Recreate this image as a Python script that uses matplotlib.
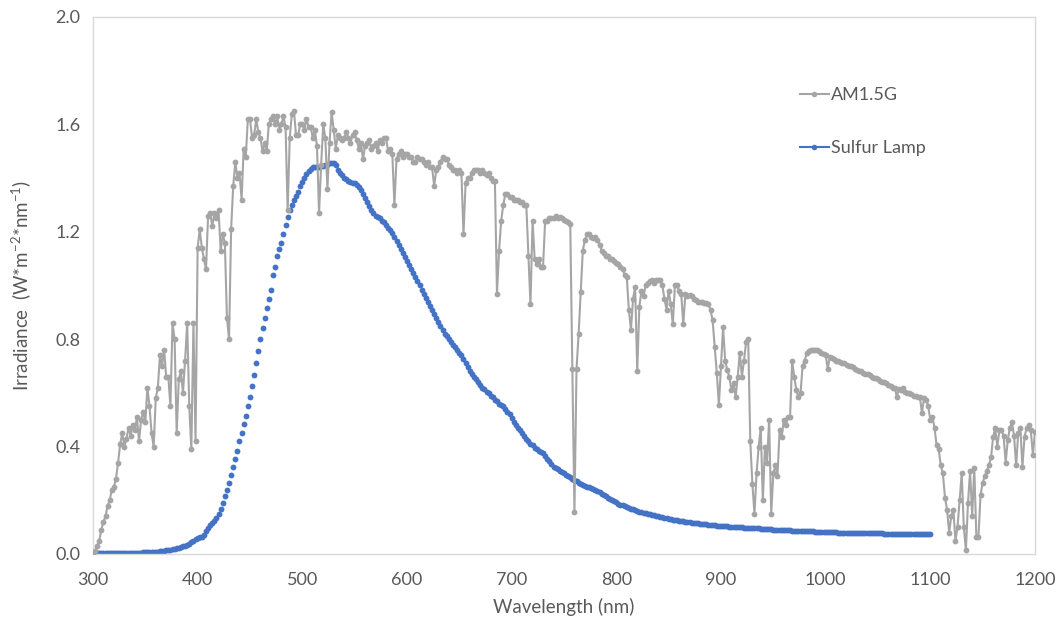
import numpy as np
import matplotlib
matplotlib.use("Agg")
import matplotlib.pyplot as plt
from matplotlib.lines import Line2D

# Wavelength grids (nm)
am15g_nm = np.arange(300, 1201, 2)
sulfur_nm = np.arange(300, 1101, 2)

# AM1.5G global tilt irradiance (W m^-2 nm^-1), 2 nm steps from 300 nm
am15g_irr = [
    0.00, 0.01, 0.03, 0.05, 0.09, 0.12, 0.14, 0.18, 0.20, 0.24,
    0.25, 0.28, 0.34, 0.41, 0.45, 0.40, 0.43, 0.47, 0.44, 0.48,
    0.46, 0.51, 0.42, 0.50, 0.53, 0.49, 0.62, 0.55, 0.45, 0.40,
    0.58, 0.62, 0.74, 0.70, 0.76, 0.66, 0.66, 0.55, 0.86, 0.80,
    0.45, 0.65, 0.68, 0.60, 0.72, 0.86, 0.55, 0.39, 0.86, 0.42,
    1.14, 1.21, 1.14, 1.10, 1.06, 1.26, 1.27, 1.22, 1.27, 1.25,
    1.28, 1.13, 1.19, 1.16, 0.88, 0.80, 1.21, 1.37, 1.46, 1.40,
    1.42, 1.32, 1.51, 1.48, 1.62, 1.62, 1.55, 1.56, 1.62, 1.57,
    1.55, 1.50, 1.53, 1.50, 1.60, 1.62, 1.63, 1.60, 1.63, 1.58,
    1.60, 1.63, 1.59, 1.28, 1.55, 1.64, 1.65, 1.56, 1.56, 1.60,
    1.60, 1.58, 1.62, 1.59, 1.59, 1.55, 1.58, 1.52, 1.27, 1.45,
    1.60, 1.55, 1.36, 1.53, 1.645, 1.58, 1.51, 1.56, 1.55, 1.54,
    1.55, 1.57, 1.55, 1.53, 1.56, 1.57, 1.54, 1.51, 1.53, 1.47,
    1.52, 1.53, 1.54, 1.51, 1.52, 1.53, 1.50, 1.54, 1.53, 1.55,
    1.55, 1.50, 1.51, 1.49, 1.30, 1.47, 1.49, 1.50, 1.48, 1.49,
    1.49, 1.48, 1.48, 1.46, 1.46, 1.48, 1.47, 1.47, 1.46, 1.45,
    1.46, 1.44, 1.44, 1.37, 1.43, 1.44, 1.46, 1.48, 1.47, 1.47,
    1.45, 1.44, 1.43, 1.43, 1.42, 1.43, 1.42, 1.19, 1.38, 1.40,
    1.40, 1.42, 1.43, 1.43, 1.43, 1.42, 1.43, 1.42, 1.41, 1.42,
    1.40, 1.39, 1.39, 0.97, 1.13, 1.24, 1.30, 1.34, 1.34, 1.33,
    1.33, 1.32, 1.32, 1.32, 1.31, 1.31, 1.30, 1.30, 1.11, 0.93,
    1.24, 1.10, 1.08, 1.10, 1.07, 1.07, 1.24, 1.24, 1.25, 1.25,
    1.25, 1.26, 1.25, 1.255, 1.25, 1.245, 1.24, 1.235, 1.23, 0.69,
    0.155, 0.69, 0.82, 0.975, 1.13, 1.17, 1.19, 1.19, 1.18, 1.175,
    1.18, 1.17, 1.15, 1.13, 1.12, 1.11, 1.11, 1.10, 1.10, 1.09,
    1.085, 1.08, 1.07, 1.06, 1.04, 1.03, 0.91, 0.835, 0.95, 0.995,
    0.68, 0.92, 0.98, 0.96, 1.00, 1.01, 1.015, 1.02, 1.01, 1.02,
    1.02, 1.02, 1.00, 0.95, 0.91, 0.98, 0.93, 0.855, 1.00, 1.00,
    0.98, 0.97, 0.855, 0.97, 0.96, 0.965, 0.96, 0.95, 0.945, 0.94,
    0.94, 0.94, 0.935, 0.935, 0.93, 0.91, 0.87, 0.77, 0.675, 0.555,
    0.70, 0.845, 0.72, 0.685, 0.66, 0.61, 0.635, 0.585, 0.66, 0.75,
    0.66, 0.72, 0.79, 0.80, 0.42, 0.26, 0.15, 0.30, 0.40, 0.47,
    0.20, 0.40, 0.34, 0.50, 0.15, 0.30, 0.33, 0.29, 0.46, 0.435,
    0.50, 0.48, 0.51, 0.51, 0.72, 0.66, 0.61, 0.585, 0.60, 0.70,
    0.72, 0.75, 0.755, 0.76, 0.76, 0.76, 0.76, 0.755, 0.75, 0.745,
    0.74, 0.69, 0.735, 0.73, 0.725, 0.72, 0.72, 0.715, 0.71, 0.71,
    0.705, 0.70, 0.70, 0.695, 0.69, 0.685, 0.68, 0.68, 0.675, 0.67,
    0.67, 0.665, 0.66, 0.655, 0.655, 0.65, 0.645, 0.64, 0.64, 0.635,
    0.63, 0.625, 0.62, 0.62, 0.585, 0.615, 0.61, 0.62, 0.605, 0.60,
    0.60, 0.595, 0.59, 0.59, 0.585, 0.585, 0.525, 0.58, 0.575, 0.55,
    0.50, 0.51, 0.47, 0.405, 0.39, 0.33, 0.30, 0.21, 0.165, 0.08,
    0.14, 0.165, 0.05, 0.10, 0.20, 0.30, 0.10, 0.015, 0.19, 0.31,
    0.14, 0.32, 0.063, 0.065, 0.22, 0.265, 0.29, 0.31, 0.33, 0.36,
    0.435, 0.47, 0.40, 0.46, 0.46, 0.44, 0.34, 0.425, 0.47, 0.49,
    0.44, 0.33, 0.45, 0.47, 0.325, 0.435, 0.47, 0.48, 0.46, 0.37,
    0.455,
]

# Sulfur lamp spectral irradiance (W m^-2 nm^-1), 2 nm steps from 300 nm
sulfur_irr = [
    0.005, 0.004, 0.004, 0.004, 0.004, 0.004, 0.004, 0.004, 0.004, 0.004,
    0.004, 0.004, 0.004, 0.004, 0.004, 0.004, 0.004, 0.004, 0.004, 0.004,
    0.004, 0.005, 0.005, 0.005, 0.006, 0.006, 0.006, 0.007, 0.007, 0.007,
    0.008, 0.009, 0.010, 0.011, 0.012, 0.013, 0.014, 0.016, 0.018, 0.020,
    0.022, 0.024, 0.026, 0.028, 0.031, 0.034, 0.038, 0.043, 0.050, 0.056,
    0.060, 0.062, 0.065, 0.072, 0.085, 0.098, 0.108, 0.115, 0.122, 0.134,
    0.150, 0.168, 0.190, 0.215, 0.240, 0.265, 0.295, 0.325, 0.355, 0.385,
    0.420, 0.450, 0.485, 0.515, 0.550, 0.585, 0.625, 0.665, 0.710, 0.755,
    0.800, 0.840, 0.880, 0.915, 0.950, 0.985, 1.040, 1.070, 1.110, 1.135,
    1.160, 1.190, 1.225, 1.255, 1.280, 1.300, 1.320, 1.335, 1.350, 1.370,
    1.385, 1.400, 1.415, 1.425, 1.435, 1.440, 1.440, 1.440, 1.440, 1.445,
    1.445, 1.450, 1.450, 1.455, 1.455, 1.455, 1.450, 1.430, 1.420, 1.410,
    1.400, 1.395, 1.390, 1.385, 1.380, 1.380, 1.375, 1.365, 1.355, 1.340,
    1.325, 1.310, 1.295, 1.280, 1.270, 1.260, 1.255, 1.250, 1.240, 1.235,
    1.225, 1.215, 1.205, 1.195, 1.180, 1.165, 1.150, 1.135, 1.120, 1.105,
    1.090, 1.075, 1.060, 1.045, 1.030, 1.015, 1.000, 0.985, 0.970, 0.955,
    0.940, 0.925, 0.910, 0.895, 0.880, 0.865, 0.850, 0.835, 0.820, 0.810,
    0.800, 0.790, 0.780, 0.770, 0.760, 0.750, 0.740, 0.725, 0.710, 0.695,
    0.680, 0.670, 0.660, 0.650, 0.640, 0.630, 0.620, 0.615, 0.605, 0.600,
    0.590, 0.585, 0.575, 0.570, 0.560, 0.555, 0.550, 0.540, 0.530, 0.520,
    0.505, 0.490, 0.480, 0.470, 0.460, 0.450, 0.440, 0.430, 0.420, 0.410,
    0.405, 0.395, 0.390, 0.385, 0.380, 0.375, 0.365, 0.355, 0.345, 0.335,
    0.325, 0.320, 0.315, 0.310, 0.305, 0.300, 0.295, 0.290, 0.285, 0.280,
    0.275, 0.270, 0.265, 0.260, 0.257, 0.254, 0.251, 0.248, 0.245, 0.242,
    0.238, 0.234, 0.230, 0.225, 0.220, 0.215, 0.210, 0.205, 0.200, 0.196,
    0.192, 0.188, 0.184, 0.181, 0.178, 0.175, 0.172, 0.169, 0.166, 0.163,
    0.160, 0.158, 0.156, 0.154, 0.152, 0.150, 0.148, 0.146, 0.144, 0.142,
    0.140, 0.138, 0.136, 0.135, 0.134, 0.132, 0.130, 0.128, 0.127, 0.125,
    0.124, 0.122, 0.121, 0.120, 0.119, 0.118, 0.117, 0.116, 0.115, 0.114,
    0.113, 0.112, 0.111, 0.110, 0.109, 0.108, 0.108, 0.107, 0.106, 0.105,
    0.105, 0.104, 0.103, 0.103, 0.102, 0.101, 0.101, 0.100, 0.100, 0.099,
    0.099, 0.098, 0.098, 0.097, 0.097, 0.096, 0.096, 0.095, 0.095, 0.094,
    0.094, 0.093, 0.093, 0.092, 0.092, 0.091, 0.091, 0.090, 0.090, 0.089,
    0.089, 0.088, 0.088, 0.088, 0.087, 0.087, 0.086, 0.086, 0.086, 0.085,
    0.085, 0.085, 0.084, 0.084, 0.084, 0.083, 0.083, 0.083, 0.082, 0.082,
    0.082, 0.082, 0.081, 0.081, 0.081, 0.081, 0.080, 0.080, 0.080, 0.080,
    0.079, 0.079, 0.079, 0.079, 0.079, 0.078, 0.078, 0.078, 0.078, 0.078,
    0.078, 0.077, 0.077, 0.077, 0.077, 0.077, 0.077, 0.077, 0.076, 0.076,
    0.076, 0.076, 0.076, 0.076, 0.076, 0.076, 0.076, 0.076, 0.076, 0.076,
    0.076, 0.076, 0.076, 0.076, 0.076, 0.076, 0.076, 0.076, 0.076, 0.076,
    0.076,
]

series_labels = ["AM1.5G", "Sulfur Lamp"]
x_ticks = [300, 400, 500, 600, 700, 800, 900, 1000, 1100, 1200]
y_ticks = [0.0, 0.4, 0.8, 1.2, 1.6, 2.0]

GRAY = "#a5a5a5"
BLUE = "#4472c4"
TEXT = "#595959"
FRAME = "#d9d9d9"

plt.rcParams["font.family"] = ["Lato", "DejaVu Sans"]
plt.rcParams["mathtext.fontset"] = "custom"
plt.rcParams["mathtext.rm"] = "Lato"
plt.rcParams["mathtext.it"] = "Lato:italic"
plt.rcParams["mathtext.default"] = "regular"

fig = plt.figure(figsize=(10.6, 6.24), dpi=100)
ax = fig.add_axes([0.0877, 0.1122, 0.8887, 0.8606])

ax.plot(sulfur_nm, sulfur_irr, linestyle="none", marker="o",
        markersize=4.2, color=BLUE, markeredgewidth=0, zorder=2)
ax.plot(am15g_nm, am15g_irr, linestyle="-", linewidth=1.5, color=GRAY,
        marker="o", markersize=4.2, markeredgewidth=0, zorder=3)

ax.set_xlim(300, 1200)
ax.set_ylim(0, 2.0)
ax.set_xticks(x_ticks)
ax.set_yticks(y_ticks)
ax.set_yticklabels([f"{v:.1f}" for v in y_ticks])
ax.tick_params(axis="both", length=0, labelsize=13, labelcolor=TEXT)
ax.tick_params(axis="x", pad=13)
ax.tick_params(axis="y", pad=9)

for sp in ax.spines.values():
    sp.set_color(FRAME)
    sp.set_linewidth(1.0)

ax.set_xlabel("Wavelength (nm)", fontsize=13.5, color=TEXT, labelpad=7)
ax.set_ylabel(r"Irradiance  (W*m$^{-2}$*nm$^{-1}$)", fontsize=13.5,
              color=TEXT, labelpad=16)

handles = [
    Line2D([0], [0], color=GRAY, linewidth=1.5, marker="o", markersize=4,
           markeredgewidth=0),
    Line2D([0], [0], color=BLUE, linewidth=1.5, marker="o", markersize=4,
           markeredgewidth=0),
]
leg = ax.legend(handles, series_labels, loc="upper left",
                bbox_to_anchor=(0.733, 0.9), frameon=False, fontsize=13,
                handlelength=1.6, handletextpad=0.12, labelspacing=2.05)
for t in leg.get_texts():
    t.set_color(TEXT)

fig.savefig("out.png", dpi=100, facecolor="white")
